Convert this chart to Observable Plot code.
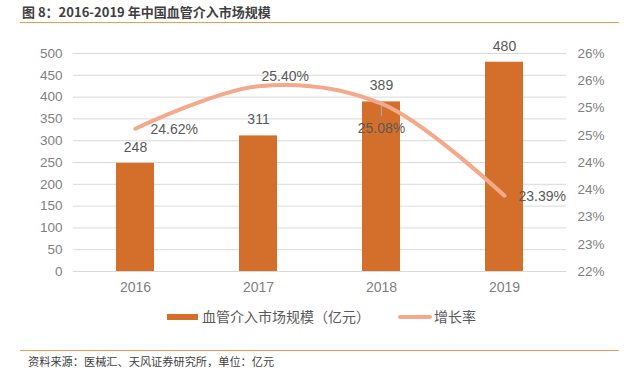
<!DOCTYPE html>
<html>
<head>
<meta charset="utf-8">
<script src="https://cdn.jsdelivr.net/npm/d3@7"></script>
<script src="https://cdn.jsdelivr.net/npm/@observablehq/plot@0.6"></script>
<style>
  html, body { margin: 0; padding: 0; background: #fff; }
  #wrap { position: relative; width: 625px; height: 370px; overflow: hidden;
          font-family: "Liberation Sans", "Noto Sans CJK SC", sans-serif; }
  #title { position: absolute; left: 22px; top: 3px; font-size: 13px; font-weight: bold; color: #404040;
           font-family: "Noto Sans CJK SC", sans-serif; line-height: 18px; white-space: nowrap; }
  .rule { position: absolute; left: 20px; width: 599px; height: 0; border-top: 1.5px solid #EE9A55; }
  #chart { position: absolute; left: 0; top: 30px; }
  #legend { position: absolute; top: 306px; left: 0; width: 625px; height: 20px;
            font-family: "Noto Sans CJK SC", sans-serif; font-size: 14px; color: #595959; }
  .sw { position: absolute; }
  .lt { position: absolute; top: 0; line-height: 20px; white-space: nowrap; }
  #caption { position: absolute; left: 28px; top: 354px; font-size: 11.2px; color: #404040;
             font-family: "Noto Sans CJK SC", sans-serif; line-height: 15px; white-space: nowrap; }
</style>
</head>
<body>
<div id="wrap">
  <div id="title"></div>
  <div class="rule" style="top:22px"></div>
  <div id="chart"></div>
  <div id="legend">
    <div class="sw" style="left:167px; top:8px; width:31px; height:6px; background:#D46F2B"></div>
    <div class="lt" id="lg1" style="left:202px"></div>
    <div class="sw" style="left:398px; top:9px; width:34px; height:4px; border-radius:2px; background:#F4A98A"></div>
    <div class="lt" id="lg2" style="left:434px"></div>
  </div>
  <div class="rule" style="top:350px"></div>
  <div id="caption"></div>
</div>
<script>
const titleText = "图 8：2016-2019 年中国血管介入市场规模";
const captionText = "资料来源：医械汇、天风证券研究所，单位：亿元";
const seriesNames = ["血管介入市场规模（亿元）", "增长率"];

const years = ["2016", "2017", "2018", "2019"];
const marketSize = [248, 311, 389, 480];
const growthRate = [24.62, 25.40, 25.08, 23.39];

const leftTicks = [0, 50, 100, 150, 200, 250, 300, 350, 400, 450, 500];
const rightTickValues = [22, 22.5, 23, 23.5, 24, 24.5, 25, 25.5, 26];
const rightTickLabels = ["22%", "23%", "23%", "24%", "24%", "25%", "25%", "26%", "26%"];

document.getElementById("title").textContent = titleText;
document.getElementById("caption").textContent = captionText;
document.getElementById("lg1").textContent = seriesNames[0];
document.getElementById("lg2").textContent = seriesNames[1];

// secondary axis (22%..26%) mapped onto primary y domain (0..500)
const rMin = 22, rMax = 26, yMax = 500;
const toY = r => (r - rMin) / (rMax - rMin) * yMax;

const bars = years.map((y, i) => ({year: y, value: marketSize[i]}));
const rates = years.map((y, i) => ({year: y, rate: growthRate[i], ry: toY(growthRate[i])}));
const rightTicks = rightTickValues.map((v, i) => ({pos: toY(v), label: rightTickLabels[i]}));

const labelStyle = [
  {dx: 15, dy: 1, anchor: "start"},
  {dx: 3, dy: -10, anchor: "start"},
  {dx: 0, dy: 25, anchor: "middle"},
  {dx: 14, dy: 1, anchor: "start"}
];

const fmtPct = r => d3.format(".2f")(r) + "%";

const chart = Plot.plot({
  width: 625,
  height: 270,
  marginTop: 23,
  marginBottom: 29,
  marginLeft: 73,
  marginRight: 59,
  style: {fontFamily: "'Liberation Sans', 'Noto Sans CJK SC', sans-serif", fontSize: "13.5px", color: "#7f7f7f", background: "transparent"},
  x: {domain: years, type: "band", paddingInner: 0.69, paddingOuter: 0.345, label: null},
  y: {domain: [0, yMax], label: null},
  marks: [
    Plot.ruleY(leftTicks, {stroke: "#d9d9d9", strokeWidth: 1}),
    Plot.axisY({ticks: leftTicks, tickSize: 0, tickPadding: 11, anchor: "left", label: null, fill: "#7f7f7f", fontSize: 13.5}),
    Plot.axisY(rightTicks.map(d => d.pos), {anchor: "right", tickSize: 0, tickPadding: 11, label: null,
      tickFormat: (d, i) => rightTicks[i].label, fill: "#7f7f7f", fontSize: 13.5}),
    Plot.axisX({tickSize: 0, tickPadding: 11, label: null, fill: "#7f7f7f", fontSize: 14}),
    Plot.barY(bars, {x: "year", y: "value", fill: "#D46F2B"}),
    Plot.text(bars, {x: "year", y: "value", text: d => String(d.value), dy: -16, fill: "#595959", fontSize: 14}),
    Plot.ruleX([rates[2]], {x: "year", y1: "ry", y2: d => d.ry - 30, stroke: "#a6a6a6", strokeWidth: 1.2}),
    Plot.line(rates, {x: "year", y: "ry", curve: "catmull-rom", stroke: "#F4A98A", strokeWidth: 4, strokeLinecap: "round"}),
    ...rates.map((d, i) => Plot.text([d], {x: "year", y: "ry", text: r => fmtPct(r.rate),
      dx: labelStyle[i].dx, dy: labelStyle[i].dy, textAnchor: labelStyle[i].anchor, fill: "#595959", fontSize: 14}))
  ]
});
document.getElementById("chart").appendChild(chart);
</script>
</body>
</html>
